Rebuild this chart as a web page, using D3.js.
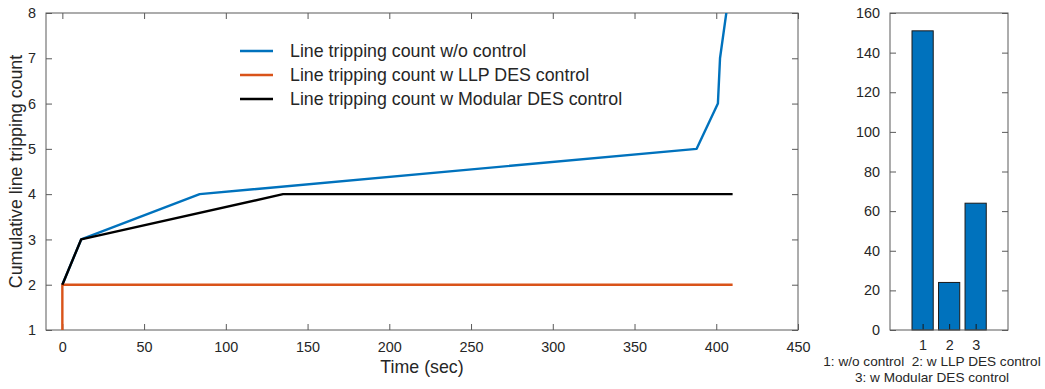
<!DOCTYPE html>
<html>
<head>
<meta charset="utf-8">
<script src="https://cdn.jsdelivr.net/npm/d3@7"></script>
<style>
  body { margin: 0; background: #fff; }
  svg { font-family: "Liberation Sans", Arial, Helvetica, sans-serif; }
  text { fill: #262626; white-space: pre; }
</style>
</head>
<body>
<svg id="chart" width="1045" height="389"></svg>
<script>
// Cumulative line tripping count over time, per control strategy: [time (sec), count]
const seriesNames = [
  "Line tripping count w/o control",
  "Line tripping count w LLP DES control",
  "Line tripping count w Modular DES control"
];
const seriesColors = ["#0072BD", "#D95319", "#000000"];
const noControl = [[0, 2], [11.5, 3], [84, 4], [388, 5], [401, 6], [402.3, 7], [410, 9]];
const llpControl = [[0, 1], [0, 2], [410, 2]];
const modularControl = [[0, 2], [11.5, 3], [135, 4], [410, 4]];

const xTicks = [0, 50, 100, 150, 200, 250, 300, 350, 400, 450];
const yTicks = [1, 2, 3, 4, 5, 6, 7, 8];

// Total trip counts per strategy
const barCategories = [1, 2, 3];
const barValues = [151, 24, 64];
const barTicks = [0, 20, 40, 60, 80, 100, 120, 140, 160];
const barNotes = ["1: w/o control  2: w LLP DES control", "3: w Modular DES control"];

const svg = d3.select("#chart");
const axisColor = "#5a5a5a";
const fmt = d3.format("d");

// ---------- Left panel: time series ----------
const L = { left: 46, right: 798, top: 13, bottom: 330 };
const x = d3.scaleLinear().domain([-10, 450]).range([L.left, L.right]);
const y = d3.scaleLinear().domain([1, 8]).range([L.bottom, L.top]);

svg.append("clipPath").attr("id", "clipL")
  .append("rect").attr("x", L.left).attr("y", L.top)
  .attr("width", L.right - L.left).attr("height", L.bottom - L.top);

const gL = svg.append("g");
const tickLen = 6;

// ticks on all four sides, pointing inward
gL.append("g").attr("transform", `translate(0,${L.bottom})`)
  .call(d3.axisBottom(x).tickValues(xTicks).tickSize(-tickLen).tickPadding(12).tickFormat(fmt))
  .call(g => g.select(".domain").remove());
gL.append("g").attr("transform", `translate(0,${L.top})`)
  .call(d3.axisTop(x).tickValues(xTicks).tickSize(-tickLen).tickFormat(""))
  .call(g => g.select(".domain").remove());
gL.append("g").attr("transform", `translate(${L.left},0)`)
  .call(d3.axisLeft(y).tickValues(yTicks).tickSize(-tickLen).tickPadding(10).tickFormat(fmt))
  .call(g => g.select(".domain").remove());
gL.append("g").attr("transform", `translate(${L.right},0)`)
  .call(d3.axisRight(y).tickValues(yTicks).tickSize(-tickLen).tickFormat(""))
  .call(g => g.select(".domain").remove());
gL.selectAll(".tick line").attr("stroke", axisColor);
gL.selectAll(".tick text").attr("font-size", 14.4).attr("fill", "#262626");

gL.append("rect").attr("x", L.left).attr("y", L.top)
  .attr("width", L.right - L.left).attr("height", L.bottom - L.top)
  .attr("fill", "none").attr("stroke", axisColor).attr("stroke-width", 1);

const line = d3.line().x(d => x(d[0])).y(d => y(d[1]));
const allSeries = [noControl, llpControl, modularControl];
allSeries.forEach((s, i) => {
  gL.append("path").datum(s)
    .attr("d", line)
    .attr("fill", "none")
    .attr("stroke", seriesColors[i])
    .attr("stroke-width", 2.4)
    .attr("stroke-linejoin", "round")
    .attr("clip-path", "url(#clipL)");
});

// Legend
const legend = gL.append("g");
seriesNames.forEach((name, i) => {
  const ly = 51 + i * 24;
  legend.append("line").attr("x1", 240).attr("x2", 273)
    .attr("y1", ly).attr("y2", ly)
    .attr("stroke", seriesColors[i]).attr("stroke-width", 2.6);
  legend.append("text").attr("x", 290).attr("y", ly)
    .attr("dy", "0.35em").attr("font-size", 17.8).text(name);
});

gL.append("text")
  .attr("x", (L.left + L.right) / 2).attr("y", 373)
  .attr("text-anchor", "middle").attr("font-size", 17.8)
  .text("Time (sec)");
gL.append("text")
  .attr("transform", `translate(22,${(L.top + L.bottom) / 2}) rotate(-90)`)
  .attr("text-anchor", "middle").attr("font-size", 17.8)
  .text("Cumulative line tripping count");

// ---------- Right panel: totals ----------
const R = { left: 890, right: 1008, top: 13, bottom: 330 };
const xb = d3.scaleLinear().domain([-0.23, 4.22]).range([R.left, R.right]);
const yb = d3.scaleLinear().domain([0, 160]).range([R.bottom, R.top]);
const barW = xb(0.8) - xb(0);

const gR = svg.append("g");
gR.append("g").attr("transform", `translate(${R.left},0)`)
  .call(d3.axisLeft(yb).tickValues(barTicks).tickSize(-tickLen).tickPadding(10).tickFormat(fmt))
  .call(g => g.select(".domain").remove());
gR.append("g").attr("transform", `translate(${R.right},0)`)
  .call(d3.axisRight(yb).tickValues(barTicks).tickSize(-tickLen).tickFormat(""))
  .call(g => g.select(".domain").remove());
gR.selectAll(".tick line").attr("stroke", axisColor);
gR.selectAll(".tick text").attr("font-size", 14.4).attr("fill", "#262626");

gR.selectAll("rect.bar").data(barValues).join("rect")
  .attr("class", "bar")
  .attr("x", (d, i) => xb(barCategories[i]) - barW / 2)
  .attr("y", d => yb(d))
  .attr("width", barW)
  .attr("height", d => yb(0) - yb(d))
  .attr("fill", "#0072BD")
  .attr("stroke", "#1a1a1a").attr("stroke-width", 1);

gR.append("g").attr("transform", `translate(0,${R.bottom})`)
  .call(d3.axisBottom(xb).tickValues(barCategories).tickSize(-tickLen).tickPadding(10).tickFormat(fmt))
  .call(g => g.select(".domain").remove())
  .call(g => g.selectAll(".tick line").attr("stroke", "#1a1a1a"))
  .call(g => g.selectAll(".tick text").attr("font-size", 14.4).attr("fill", "#262626"));

gR.append("rect").attr("x", R.left).attr("y", R.top)
  .attr("width", R.right - R.left).attr("height", R.bottom - R.top)
  .attr("fill", "none").attr("stroke", axisColor).attr("stroke-width", 1);

barNotes.forEach((t, i) => {
  gR.append("text").attr("x", 932).attr("y", 366 + i * 16)
    .attr("text-anchor", "middle").attr("font-size", 13.6).text(t);
});
</script>
</body>
</html>
